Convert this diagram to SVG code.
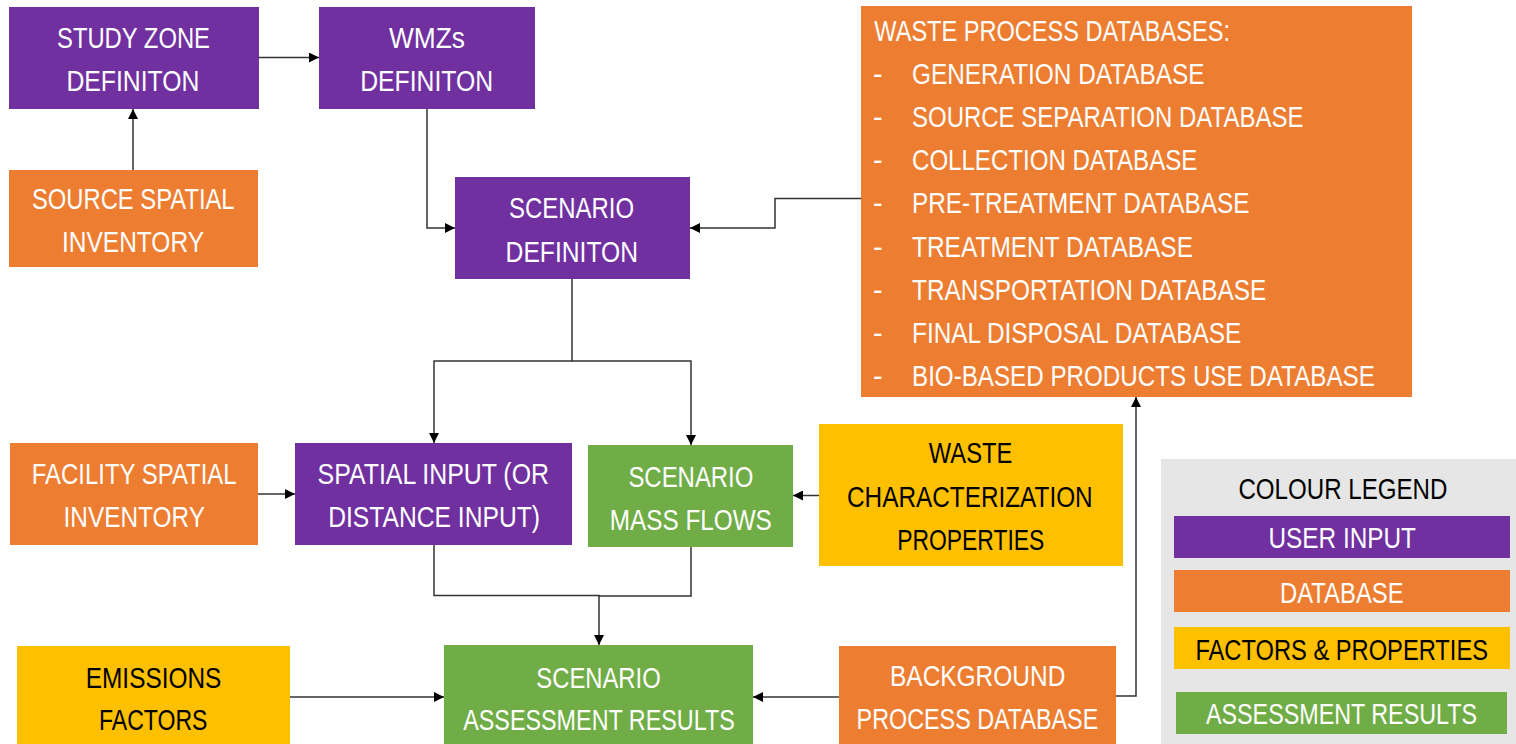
<svg xmlns="http://www.w3.org/2000/svg" width="1516" height="744" viewBox="0 0 1516 744">
<style>
.p{fill:#7030A0}.o{fill:#ED7D31}.y{fill:#FFC000}.g{fill:#70AD47}.lg{fill:#E6E6E6}
text{font-family:"Liberation Sans",Arial,sans-serif;font-size:29px}
.w{fill:#FFFFFF}.k{fill:#000000}
.c path{fill:none;stroke:#333333;stroke-width:1.5}
</style>
<defs>
<marker id="ah" markerUnits="userSpaceOnUse" markerWidth="11" markerHeight="10" refX="10" refY="5" orient="auto">
<path d="M0,0 L10,5 L0,10 z" fill="#000000"/>
</marker>
</defs>
<rect width="1516" height="744" fill="#FFFFFF"/>
<g class="c">
<path d="M133,170 V109" marker-end="url(#ah)"/>
<path d="M259,57.5 H319" marker-end="url(#ah)"/>
<path d="M427,109 V228 H455" marker-end="url(#ah)"/>
<path d="M861,198.5 H775 V228 H690" marker-end="url(#ah)"/>
<path d="M572,279 V361 H434 V443" marker-end="url(#ah)"/>
<path d="M572,361 H691 V445" marker-end="url(#ah)"/>
<path d="M258,494 H295" marker-end="url(#ah)"/>
<path d="M819,495.5 H793" marker-end="url(#ah)"/>
<path d="M434,545 V595.5 H599 V645" marker-end="url(#ah)"/>
<path d="M691,547 V596 H599"/>
<path d="M290,697 H444" marker-end="url(#ah)"/>
<path d="M839,697 H753" marker-end="url(#ah)"/>
<path d="M1116,696 H1136 V397" marker-end="url(#ah)"/>
</g>
<g id="study-zone">
<rect class="p" x="9" y="7" width="250" height="102"/>
<text class="w" x="57" y="47.7" textLength="153" lengthAdjust="spacingAndGlyphs">STUDY ZONE</text>
<text class="w" x="66.4" y="90.7" textLength="133" lengthAdjust="spacingAndGlyphs">DEFINITON</text>
</g>
<g id="wmzs">
<rect class="p" x="319" y="7" width="216" height="102"/>
<text class="w" x="389" y="47.7" textLength="76" lengthAdjust="spacingAndGlyphs">WMZs</text>
<text class="w" x="360.2" y="90.7" textLength="133" lengthAdjust="spacingAndGlyphs">DEFINITON</text>
</g>
<g id="source-spatial">
<rect class="o" x="9" y="170" width="249" height="97"/>
<text class="w" x="32" y="209" textLength="202.6" lengthAdjust="spacingAndGlyphs">SOURCE SPATIAL</text>
<text class="w" x="62" y="251.7" textLength="142" lengthAdjust="spacingAndGlyphs">INVENTORY</text>
</g>
<g id="scenario-def">
<rect class="p" x="455" y="177" width="235" height="102"/>
<text class="w" x="509" y="218.3" textLength="125" lengthAdjust="spacingAndGlyphs">SCENARIO</text>
<text class="w" x="505.6" y="261.7" textLength="132.4" lengthAdjust="spacingAndGlyphs">DEFINITON</text>
</g>
<g id="waste-db">
<rect class="o" x="861" y="6" width="551" height="391"/>
<text class="w" x="874.3" y="41" textLength="355.7" lengthAdjust="spacingAndGlyphs">WASTE PROCESS DATABASES:</text>
<text class="w" x="873" y="84.1">-</text><text class="w" x="912" y="84.1" textLength="292.6" lengthAdjust="spacingAndGlyphs">GENERATION DATABASE</text>
<text class="w" x="873" y="127.2">-</text><text class="w" x="912" y="127.2" textLength="391.4" lengthAdjust="spacingAndGlyphs">SOURCE SEPARATION DATABASE</text>
<text class="w" x="873" y="170.3">-</text><text class="w" x="912" y="170.3" textLength="285.3" lengthAdjust="spacingAndGlyphs">COLLECTION DATABASE</text>
<text class="w" x="873" y="213.4">-</text><text class="w" x="912" y="213.4" textLength="337.4" lengthAdjust="spacingAndGlyphs">PRE-TREATMENT DATABASE</text>
<text class="w" x="873" y="256.5">-</text><text class="w" x="912" y="256.5" textLength="281" lengthAdjust="spacingAndGlyphs">TREATMENT DATABASE</text>
<text class="w" x="873" y="299.6">-</text><text class="w" x="912" y="299.6" textLength="354.3" lengthAdjust="spacingAndGlyphs">TRANSPORTATION DATABASE</text>
<text class="w" x="873" y="342.7">-</text><text class="w" x="912" y="342.7" textLength="329.2" lengthAdjust="spacingAndGlyphs">FINAL DISPOSAL DATABASE</text>
<text class="w" x="873" y="385.8">-</text><text class="w" x="912" y="385.8" textLength="462.8" lengthAdjust="spacingAndGlyphs">BIO-BASED PRODUCTS USE DATABASE</text>
</g>
<g id="facility-spatial">
<rect class="o" x="10" y="443" width="248" height="102"/>
<text class="w" x="31.8" y="484.3" textLength="204.8" lengthAdjust="spacingAndGlyphs">FACILITY SPATIAL</text>
<text class="w" x="63.5" y="527.3" textLength="141.4" lengthAdjust="spacingAndGlyphs">INVENTORY</text>
</g>
<g id="spatial-input">
<rect class="p" x="295" y="443" width="277" height="102"/>
<text class="w" x="317.6" y="484.3" textLength="231.4" lengthAdjust="spacingAndGlyphs">SPATIAL INPUT (OR</text>
<text class="w" x="328.2" y="527.3" textLength="211.8" lengthAdjust="spacingAndGlyphs">DISTANCE INPUT)</text>
</g>
<g id="mass-flows">
<rect class="g" x="588" y="445" width="205" height="102"/>
<text class="w" x="628.4" y="486.7" textLength="125" lengthAdjust="spacingAndGlyphs">SCENARIO</text>
<text class="w" x="609.8" y="530" textLength="162" lengthAdjust="spacingAndGlyphs">MASS FLOWS</text>
</g>
<g id="waste-char">
<rect class="y" x="819" y="424" width="304" height="142"/>
<text class="k" x="928.8" y="463.3" textLength="83.5" lengthAdjust="spacingAndGlyphs">WASTE</text>
<text class="k" x="847" y="507.3" textLength="245.7" lengthAdjust="spacingAndGlyphs">CHARACTERIZATION</text>
<text class="k" x="897.3" y="550" textLength="147" lengthAdjust="spacingAndGlyphs">PROPERTIES</text>
</g>
<g id="emissions">
<rect class="y" x="17" y="646" width="273" height="98"/>
<text class="k" x="85.8" y="687.7" textLength="135.5" lengthAdjust="spacingAndGlyphs">EMISSIONS</text>
<text class="k" x="99" y="730" textLength="108.5" lengthAdjust="spacingAndGlyphs">FACTORS</text>
</g>
<g id="assessment">
<rect class="g" x="444" y="645" width="309" height="99"/>
<text class="w" x="536.3" y="687.7" textLength="124.4" lengthAdjust="spacingAndGlyphs">SCENARIO</text>
<text class="w" x="463.2" y="730" textLength="271.6" lengthAdjust="spacingAndGlyphs">ASSESSMENT RESULTS</text>
</g>
<g id="background-db">
<rect class="o" x="839" y="646" width="277" height="98"/>
<text class="w" x="890" y="686" textLength="175.3" lengthAdjust="spacingAndGlyphs">BACKGROUND</text>
<text class="w" x="856.6" y="729.3" textLength="241.6" lengthAdjust="spacingAndGlyphs">PROCESS DATABASE</text>
</g>
<g id="legend">
<rect class="lg" x="1161" y="459" width="355" height="285"/>
<text class="k" x="1238.4" y="499" textLength="209" lengthAdjust="spacingAndGlyphs">COLOUR LEGEND</text>
<rect class="p" x="1174" y="516" width="336" height="42"/>
<text class="w" x="1268.5" y="548" textLength="147.5" lengthAdjust="spacingAndGlyphs">USER INPUT</text>
<rect class="o" x="1174" y="570" width="336" height="42"/>
<text class="w" x="1280" y="603" textLength="123.6" lengthAdjust="spacingAndGlyphs">DATABASE</text>
<rect class="y" x="1174" y="627" width="336" height="42"/>
<text class="k" x="1195.4" y="660" textLength="292.6" lengthAdjust="spacingAndGlyphs">FACTORS &amp; PROPERTIES</text>
<rect class="g" x="1176" y="692" width="331" height="42"/>
<text class="w" x="1206" y="724" textLength="271" lengthAdjust="spacingAndGlyphs">ASSESSMENT RESULTS</text>
</g>
</svg>
